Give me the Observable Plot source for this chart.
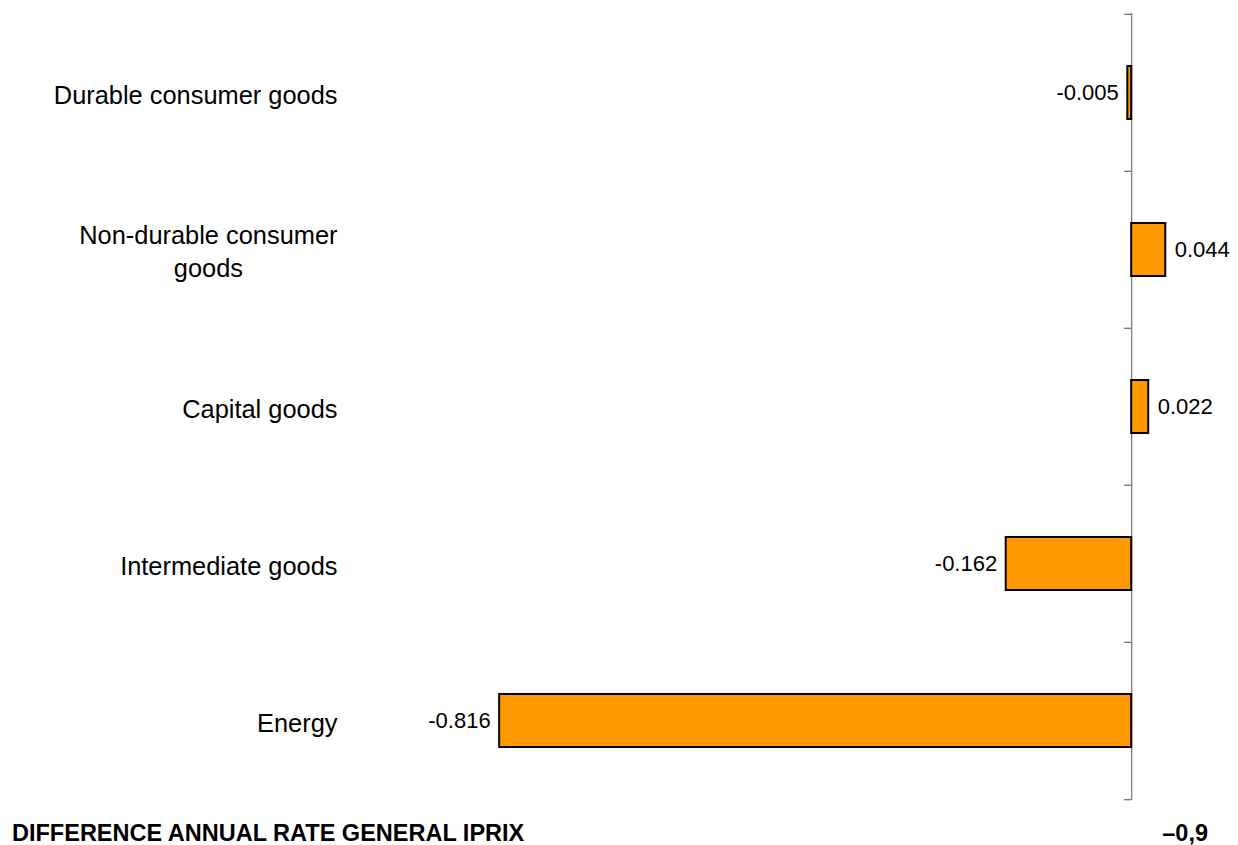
<!DOCTYPE html>
<html><head><meta charset="utf-8">
<script src="https://cdn.jsdelivr.net/npm/d3@7"></script>
<script src="https://cdn.jsdelivr.net/npm/@observablehq/plot@0.6"></script>
<style>
body{margin:0;background:#fff;font-family:"Liberation Sans",Arial,sans-serif;}
#wrap{position:relative;width:1238px;height:845px;overflow:hidden;}
#chart svg{display:block;}
.foot{position:absolute;font-weight:bold;font-size:23.5px;line-height:1;top:822px;color:#000;white-space:nowrap;}
</style></head><body>
<div id="wrap"><div id="chart"></div>
<div class="foot" id="fl" style="left:12px"></div>
<div class="foot" id="fr" style="right:30px"></div></div>
<script>
const categories = ["Durable consumer goods", "Non-durable consumer goods", "Capital goods", "Intermediate goods", "Energy"];
const labelLines = ["Durable consumer goods", "Non-durable consumer\ngoods", "Capital goods", "Intermediate goods", "Energy"];
const values = [-0.005, 0.044, 0.022, -0.162, -0.816];
const footerLabel = "DIFFERENCE ANNUAL RATE GENERAL IPRIX";
const footerValue = "–0,9";

const W = 1238, H = 815, mTop = 13, mBottom = 15, mLeft = 345, mRight = 10;
const step = (H - mTop - mBottom) / categories.length;
const fontFam = "'Liberation Sans', Arial, sans-serif";
const labelSize = 25.4;

const ctx = document.createElement("canvas").getContext("2d");
ctx.font = `${labelSize}px ${fontFam}`;
const data = categories.map((c, i) => {
  const lines = labelLines[i].split("\n");
  const w = d3.max(lines, l => ctx.measureText(l).width);
  return {category: c, label: labelLines[i], value: values[i], w};
});

const fmt = v => v.toFixed(3);

const labelMarks = data.map(d => Plot.text([d], {
  y: "category", text: "label", frameAnchor: "left", textAnchor: "middle",
  dx: -(8 + d.w / 2), lineHeight: 1.3, fontSize: labelSize, fill: "#000"
}));

const chart = Plot.plot({
  width: W, height: H,
  marginTop: mTop, marginBottom: mBottom, marginLeft: mLeft, marginRight: mRight,
  style: {fontFamily: fontFam, background: "#fff"},
  x: {domain: [-1.015, 0.125], axis: null},
  y: {domain: categories, padding: 0, axis: null},
  marks: [
    Plot.ruleX([0], {stroke: "#7f7f7f", strokeWidth: 1.3}),
    Plot.ruleY(data, {y: "category", x1: -0.009, x2: 0, dy: -step / 2, stroke: "#6f6f6f", strokeWidth: 1.3}),
    Plot.ruleY(data.slice(-1), {y: "category", x1: -0.009, x2: 0, dy: step / 2, stroke: "#6f6f6f", strokeWidth: 1.3}),
    Plot.barX(data, {y: "category", x: "value", fill: "#FF9900", stroke: "#000", strokeWidth: 2, insetTop: 52, insetBottom: 52}),
    Plot.text(data.filter(d => d.value < 0), {y: "category", x: "value", text: d => fmt(d.value), textAnchor: "end", dx: -9, fontSize: 22, fill: "#000"}),
    Plot.text(data.filter(d => d.value >= 0), {y: "category", x: "value", text: d => fmt(d.value), textAnchor: "start", dx: 9, fontSize: 22, fill: "#000"}),
    ...labelMarks
  ]
});
document.getElementById("chart").append(chart);
document.getElementById("fl").textContent = footerLabel;
document.getElementById("fr").textContent = footerValue;
</script>
</body></html>
